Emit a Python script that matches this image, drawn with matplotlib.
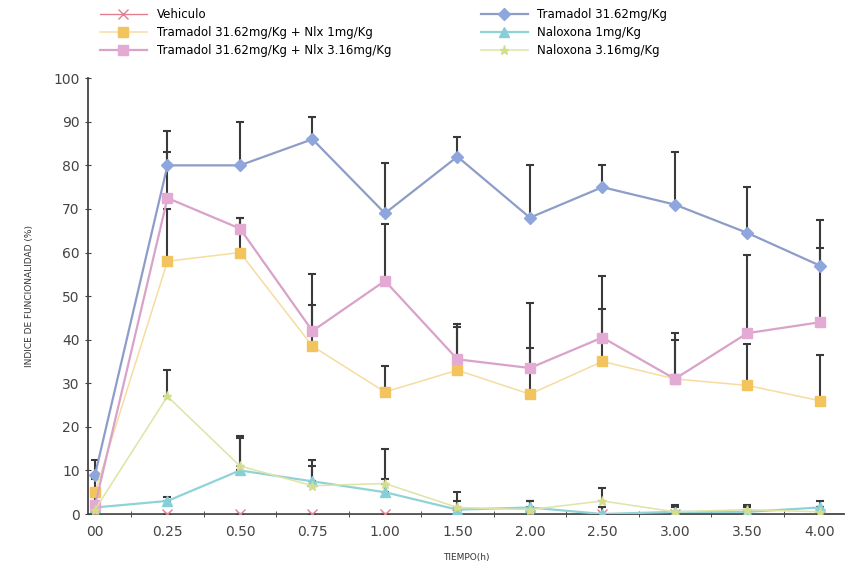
import numpy as np
import matplotlib
matplotlib.use('Agg')
import matplotlib.pyplot as plt

# ── Data ─────────────────────────────────────────────────────────────────────
TIEMPOS = ['00', '0.25', '0.50', '0.75', '1.00', '1.50', '2.00', '2.50', '3.00', '3.50', '4.00']

vehiculo      = [0, 0, 0, 0, 0, 0, 0, 0, 0, 0, 0]
vehiculo_err  = [0, 0, 0, 0, 0, 0, 0, 0, 0, 0, 0]

tramadol      = [9, 80, 80, 86, 69, 82, 68, 75, 71, 64.5, 57]
tramadol_err  = [3.5, 8, 10, 5, 11.5, 4.5, 12, 5, 12, 10.5, 10.5]

tram_nlx1     = [5, 58, 60, 38.5, 28, 33, 27.5, 35, 31, 29.5, 26]
tram_nlx1_err = [3, 12, 8, 9.5, 6, 10, 10.5, 12, 9, 9.5, 10.5]

tram_nlx316     = [2, 72.5, 65.5, 42, 53.5, 35.5, 33.5, 40.5, 31, 41.5, 44]
tram_nlx316_err = [2, 10.5, 2.5, 13, 13, 8, 15, 14, 10.5, 18, 17]

nalox1        = [1.5, 3, 10, 7.5, 5, 1, 1.5, 0, 0.5, 0.5, 1.5]
nalox1_err    = [1, 1, 8, 5, 3, 2, 1.5, 1.5, 1, 1, 1.5]

nalox316      = [1, 27, 11, 6.5, 7, 1.5, 1, 3, 0.5, 1, 0.5]
nalox316_err  = [1, 6, 6.5, 4.5, 8, 3.5, 2, 3, 1.5, 1, 1]

# ── Figure ───────────────────────────────────────────────────────────────────
fig = plt.figure(figsize=(8.5, 5.78), dpi=100)
ax = fig.add_axes([0.1035, 0.1107, 0.89, 0.754])

x = np.arange(len(TIEMPOS))

series = [
    ('Vehiculo', vehiculo, vehiculo_err, '#e2808f', '#e2808f', 'x', 1.0),
    ('Tramadol 31.62mg/Kg', tramadol, tramadol_err, '#8e9cc8', '#8fa6dc', 'D', 1.6),
    ('Tramadol 31.62mg/Kg + Nlx 1mg/Kg', tram_nlx1, tram_nlx1_err, '#f6dca0', '#f3c45e', 's', 1.1),
    ('Naloxona 1mg/Kg', nalox1, nalox1_err, '#8fd3d6', '#86cfd8', '^', 1.6),
    ('Tramadol 31.62mg/Kg + Nlx 3.16mg/Kg', tram_nlx316, tram_nlx316_err, '#d9a2c9', '#e3aad4', 's', 1.6),
    ('Naloxona 3.16mg/Kg', nalox316, nalox316_err, '#dfe3a6', '#d4de8a', '*', 1.1),
]

for name, vals, err, lc, mc, mk, lw in series:
    vals = np.array(vals, dtype=float)
    err = np.array(err, dtype=float)
    ax.errorbar(x, vals, yerr=[np.zeros_like(err), err], fmt='none',
                ecolor='#3a3a3a', elinewidth=1.5, capsize=3, capthick=1.5, zorder=2)
    ax.plot(x, vals, color=lc, linewidth=lw, marker=mk, markersize=6.5,
            markerfacecolor=mc, markeredgecolor=mc, label=name, zorder=3)

ax.set_ylim(0, 100)
ax.set_xlim(-0.097, 10.34)
ax.set_yticks(np.arange(0, 101, 10))
ax.set_xticks(x)
ax.set_xticklabels(TIEMPOS)
ax.set_xticks(x[:-1] + 0.5, minor=True)
ax.tick_params(axis='x', which='major', length=0, pad=8, labelsize=10, colors='#444444')
ax.tick_params(axis='x', which='minor', length=5, direction='inout', color='#333333')
ax.tick_params(axis='y', length=5, direction='inout', labelsize=10, colors='#444444')
for sp in ['top', 'right']:
    ax.spines[sp].set_visible(False)
ax.spines['left'].set_color('#444444')
ax.spines['bottom'].set_color('#444444')
ax.spines['left'].set_linewidth(1.3)
ax.spines['bottom'].set_linewidth(1.3)

ax.set_xlabel('TIEMPO(h)', fontsize=6.5, labelpad=10, color='#333333')
ax.set_ylabel('INDICE DE FUNCIONALIDAD (%)', fontsize=6.5, labelpad=14, color='#333333')

handles, labels = ax.get_legend_handles_labels()
order = [0, 2, 4, 1, 3, 5]
fig.legend([handles[i] for i in order], [labels[i] for i in order],
           loc='upper left', bbox_to_anchor=(0.105, 1.005), ncol=2, frameon=False,
           fontsize=8.5, handlelength=4.0, columnspacing=7.6, labelspacing=0.45)

fig.savefig('out.png', dpi=100)
